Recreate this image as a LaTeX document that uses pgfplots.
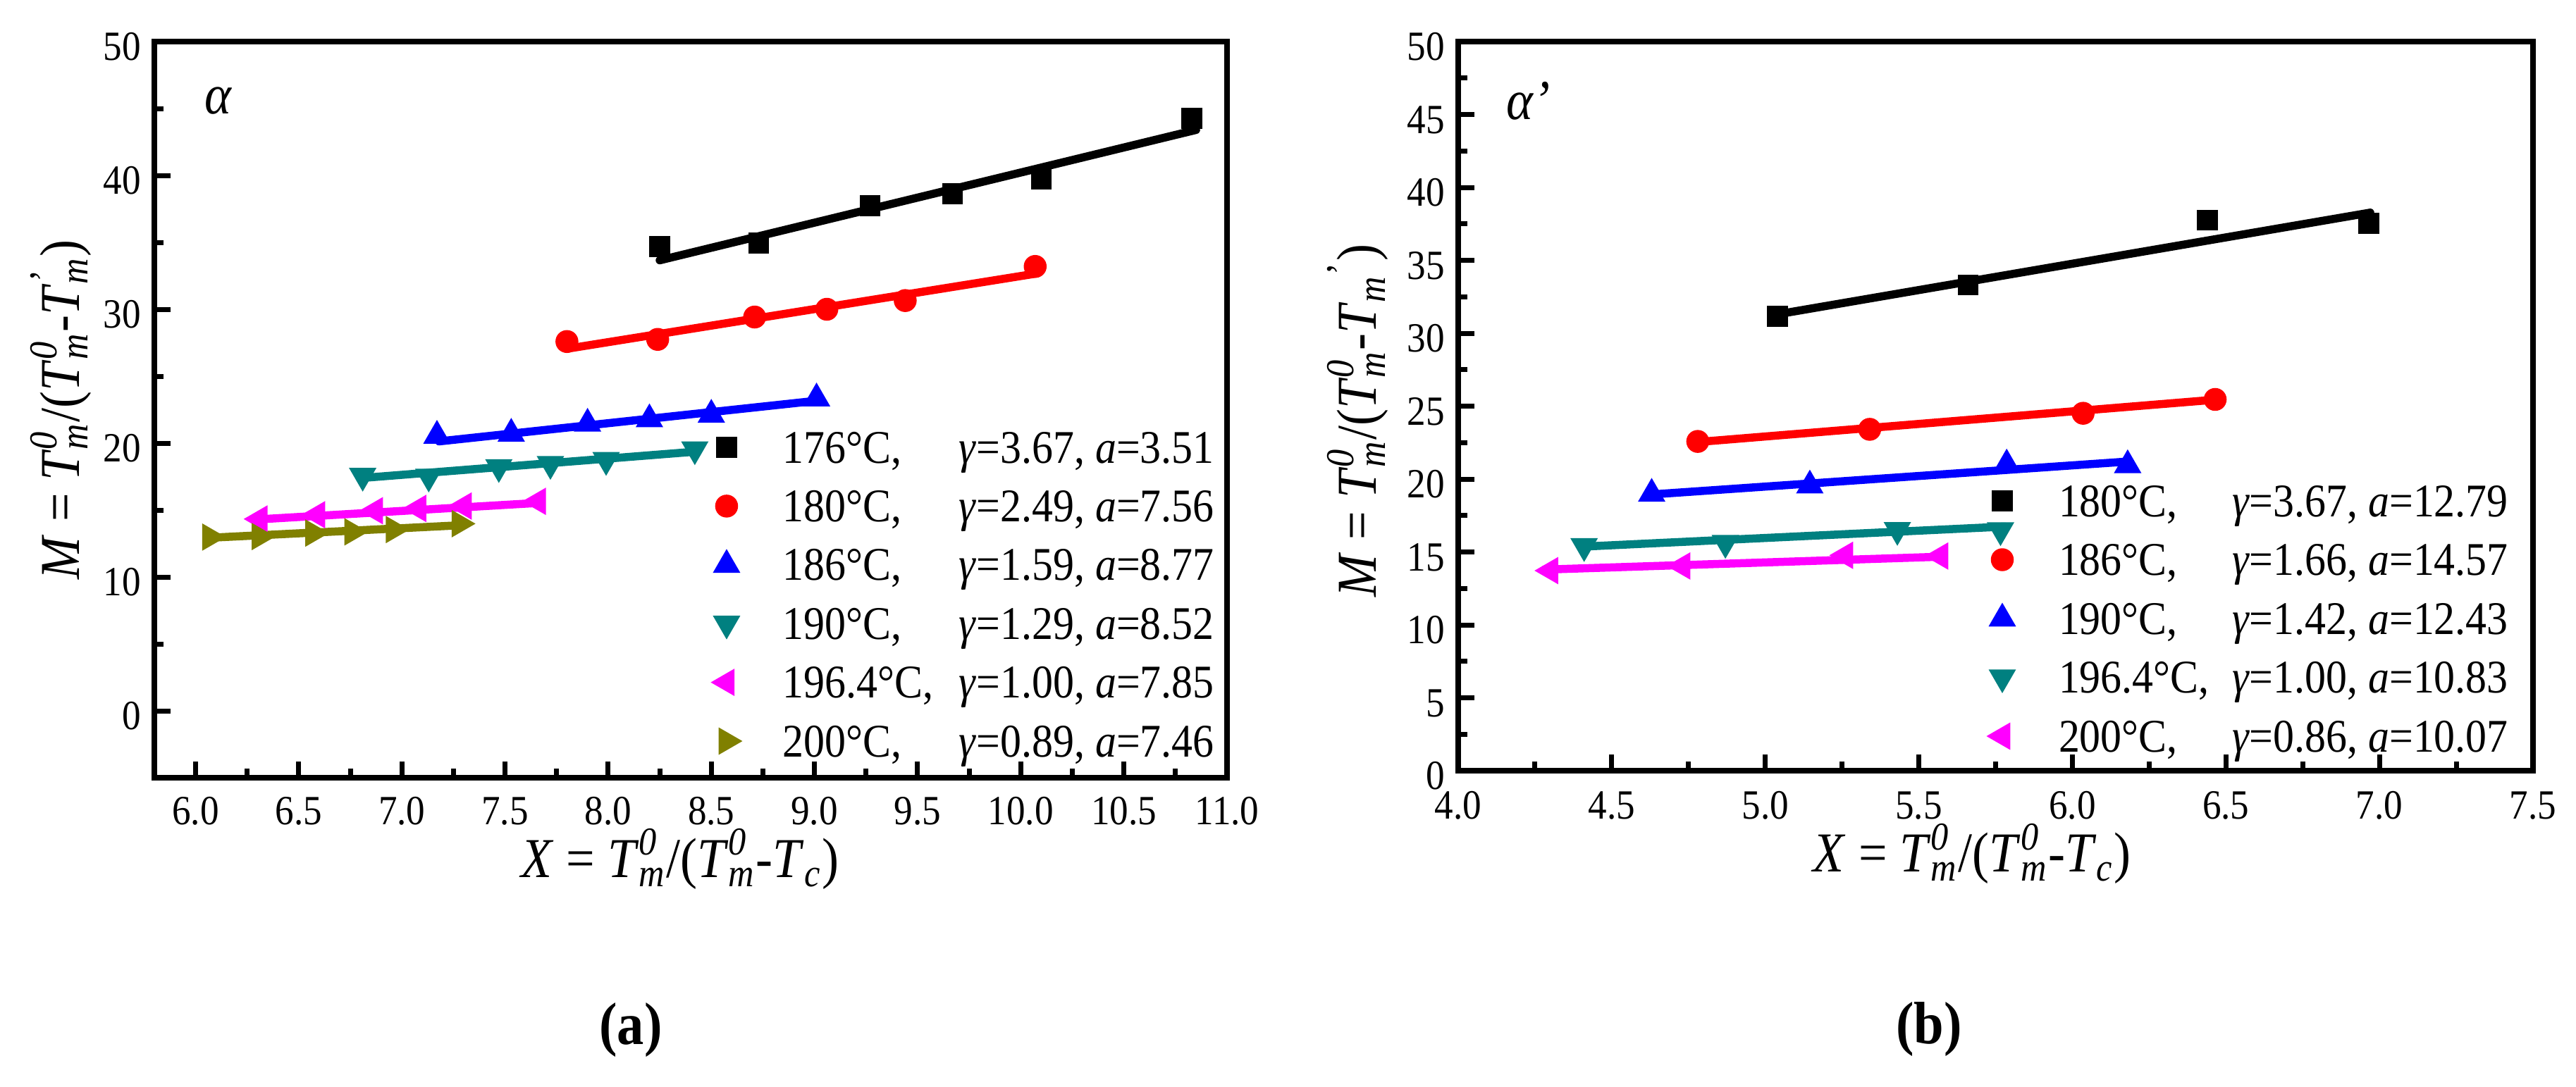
\documentclass[border=0pt]{standalone}
\usepackage{fontspec}
\setmainfont{Liberation Serif}[FakeStretch=0.9]
\usepackage{pgfplots}
\pgfplotsset{compat=1.18}
\definecolor{cteal}{HTML}{008080}
\definecolor{colive}{HTML}{808000}
\definecolor{cmag}{HTML}{FF00FF}
\definecolor{cred}{HTML}{FF0000}
\definecolor{cblue}{HTML}{0000FF}
\newcommand\supsub[2]{\rlap{\textsuperscript{\textit{#1}}}\textsubscript{\textit{#2}}}
\newcommand\legtxt[4]{\makebox[#1][l]{#2}\textit{γ}=#3, \textit{a}=#4}

\pgfplotsset{
  myaxis/.style={
    scale only axis,
    axis line style={line width=1.6pt},
    tick align=inside, tick pos=left,
    major tick length=4.6pt, minor tick length=2.6pt,
    tick style={line width=1.4pt, black},
    minor x tick num=1, minor y tick num=1,
    tick label style={font=\fontsize{11.8}{12}\selectfont},
    /pgf/number format/assume math mode=true,
    label style={font=\fontsize{16}{16}\selectfont},
    x tick label style={/pgf/number format/fixed, /pgf/number format/fixed zerofill, /pgf/number format/precision=1},
    y tick label style={anchor=east, inner sep=0pt, xshift=-3.6pt, yshift=-1.5pt},
    legend cell align=left,
    legend image code/.code={\path[draw=none,fill=none] (-8pt,-3pt) rectangle (16pt,9.5pt); \draw[##1,only marks] plot coordinates {(0pt,4.4pt)};},
    fitline/.style={mark=none, line width=2.3pt, line cap=round, forget plot},
    mk/.style={only marks, line width=0.3pt, mark options={solid}},
    clip=false,
  }
}

\begin{document}
\begin{tikzpicture}
\useasboundingbox (0,0) rectangle (731pt,308.4pt);

% ---------------- (a) ----------------
\begin{axis}[myaxis,
  at={(43.8pt,87.6pt)}, anchor=south west, width=304.4pt, height=209pt,
  xmin=5.8, xmax=11.0, ymin=-5, ymax=50,
  xtick={6,6.5,7,7.5,8,8.5,9,9.5,10,10.5,11}, ytick={0,10,20,30,40,50},
  x tick label style={anchor=base, yshift=-13.2pt},
  xlabel={\textit{X} = \textit{T}\supsub{0}{m}/(\textit{T}\supsub{0}{m}-\textit{T}\textsubscript{\textit{c}})},
  ylabel={\textit{M} = \textit{T}\supsub{0}{m}/(\textit{T}\supsub{0}{m}-\textit{T}\supsub{'}{m})},
  xlabel style={at={(axis description cs:0.49,-0.135)}, anchor=base},
  ylabel style={at={(axis description cs:-0.0703,0.5)}, anchor=base},
  legend style={draw=none, fill=none, inner sep=0pt, outer sep=0pt,
    at={(0.5072,0.4732)}, anchor=north west, row sep=4.18pt, column sep=0pt,
    font=\fontsize{13.3}{14}\selectfont,
    nodes={inner sep=0pt, anchor=base west, text height=9.5pt, text depth=3pt}},
]
\addplot[fitline, black] coordinates {(8.25,33.66) (10.85,43.40)};
\addplot[fitline, cred] coordinates {(7.80,27.05) (10.08,32.68)};
\addplot[fitline, cblue] coordinates {(7.18,20.13) (9.02,23.18)};
\addplot[fitline, cteal] coordinates {(6.81,17.40) (8.43,19.37)};
\addplot[fitline, cmag] coordinates {(6.31,14.31) (7.66,15.53)};
\addplot[fitline, colive] coordinates {(6.07,12.93) (7.28,13.86)};

\addplot[mk, black, mark=square*, mark size=2.8pt] coordinates {(8.25,34.68) (8.73,34.95) (9.27,37.74) (9.67,38.63) (10.10,39.74) (10.83,44.27)};
\addlegendentry{\legtxt{50pt}{176°C,}{3.67}{3.51}}
\addplot[mk, cred, mark=*, mark size=3.1pt] coordinates {(7.80,27.59) (8.24,27.75) (8.71,29.42) (9.06,30.00) (9.44,30.65) (10.07,33.20)};
\addlegendentry{\legtxt{50pt}{180°C,}{2.49}{7.56}}
\addplot[mk, cblue, mark=triangle*, mark size=4.2pt] coordinates {(7.17,20.55) (7.53,20.70) (7.90,21.45) (8.20,21.78) (8.50,22.12) (9.01,23.34)};
\addlegendentry{\legtxt{50pt}{186°C,}{1.59}{8.77}}
\addplot[mk, cteal, mark=triangle*, mark size=4.2pt, mark options={rotate=180}] coordinates {(6.81,17.56) (7.13,17.50) (7.47,18.21) (7.72,18.44) (7.99,18.74) (8.42,19.54)};
\addlegendentry{\legtxt{50pt}{190°C,}{1.29}{8.52}}
\addplot[mk, cmag, mark=triangle*, mark size=4.2pt, mark options={rotate=90}] coordinates {(6.31,14.33) (6.59,14.65) (6.87,14.95) (7.08,15.12) (7.30,15.30) (7.66,15.65)};
\addlegendentry{\legtxt{50pt}{196.4°C,}{1.00}{7.85}}
\addplot[mk, colive, mark=triangle*, mark size=4.2pt, mark options={rotate=-90}] coordinates {(6.07,12.98) (6.31,13.02) (6.57,13.28) (6.76,13.37) (6.96,13.54) (7.28,13.98)};
\addlegendentry{\legtxt{50pt}{200°C,}{0.89}{7.46}}

\node[font=\fontsize{16}{16}\selectfont] at (rel axis cs:0.06,0.92) {\textit{α}};
\end{axis}

% ---------------- (b) ----------------
\begin{axis}[myaxis,
  at={(413.8pt,89.6pt)}, anchor=south west, width=305pt, height=207pt,
  xmin=4.0, xmax=7.5, ymin=0, ymax=50,
  xtick={4,4.5,5,5.5,6,6.5,7,7.5}, ytick={0,5,10,15,20,25,30,35,40,45,50},
  x tick label style={anchor=base, yshift=-13.6pt},
  xlabel={\textit{X} = \textit{T}\supsub{0}{m}/(\textit{T}\supsub{0}{m}-\textit{T}\textsubscript{\textit{c}})},
  ylabel={\textit{M} = \textit{T}\supsub{0}{m}/(\textit{T}\supsub{0}{m}-\textit{T}\textsubscript{\textit{m}}\textsuperscript{'})},
  xlabel style={at={(axis description cs:0.478,-0.139)}, anchor=base},
  ylabel style={at={(axis description cs:-0.0767,0.48)}, anchor=base},
  legend style={draw=none, fill=none, inner sep=0pt, outer sep=0pt,
    at={(0.48,0.3947)}, anchor=north west, row sep=4.2pt, column sep=0pt,
    font=\fontsize{13.3}{14}\selectfont,
    nodes={inner sep=0pt, anchor=base west, text height=9.5pt, text depth=3pt}},
]
\addplot[fitline, black] coordinates {(5.04,31.30) (6.97,38.27)};
\addplot[fitline, cred] coordinates {(4.78,22.54) (6.47,25.45)};
\addplot[fitline, cblue] coordinates {(4.62,18.93) (6.18,21.20)};
\addplot[fitline, cteal] coordinates {(4.40,15.36) (5.78,16.74)};
\addplot[fitline, cmag] coordinates {(4.28,13.79) (5.58,14.68)};

\addplot[mk, black, mark=square*, mark size=2.8pt] coordinates {(5.04,31.16) (5.66,33.31) (6.44,37.75) (6.965,37.54)};
\addlegendentry{\legtxt{49.2pt}{180°C,}{3.67}{12.79}}
\addplot[mk, cred, mark=*, mark size=3.1pt] coordinates {(4.78,22.58) (5.34,23.41) (6.035,24.51) (6.465,25.46)};
\addlegendentry{\legtxt{49.2pt}{186°C,}{1.66}{14.57}}
\addplot[mk, cblue, mark=triangle*, mark size=4.2pt] coordinates {(4.63,18.99) (5.145,19.56) (5.786,21.00) (6.18,20.95)};
\addlegendentry{\legtxt{49.2pt}{190°C,}{1.42}{12.43}}
\addplot[mk, cteal, mark=triangle*, mark size=4.2pt, mark options={rotate=180}] coordinates {(4.41,15.40) (4.87,15.62) (5.43,16.51) (5.766,16.49)};
\addlegendentry{\legtxt{49.2pt}{196.4°C,}{1.00}{10.83}}
\addplot[mk, cmag, mark=triangle*, mark size=4.2pt, mark options={rotate=90}] coordinates {(4.30,13.72) (4.73,14.04) (5.26,14.77) (5.57,14.72)};
\addlegendentry{\legtxt{49.2pt}{200°C,}{0.86}{10.07}}

\node[font=\fontsize{16}{16}\selectfont] at (rel axis cs:0.065,0.919) {\textit{α'}};
\end{axis}

\node[font=\bfseries\fontsize{17}{17}\selectfont] at (179pt,16pt) {(a)};
\node[font=\bfseries\fontsize{17}{17}\selectfont] at (547.4pt,16.2pt) {(b)};
\end{tikzpicture}
\end{document}
